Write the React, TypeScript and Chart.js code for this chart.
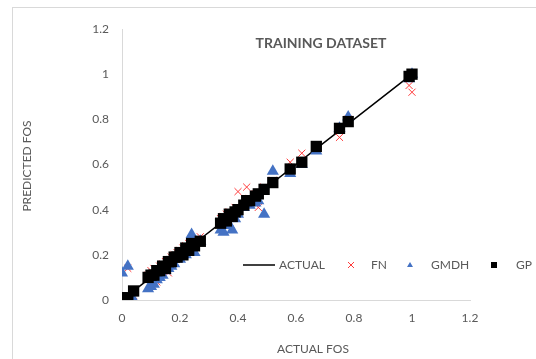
import React, { useEffect, useRef } from "react";
import { Chart, registerables } from "chart.js";

Chart.register(...registerables);

// ---- data ----
const actualFos = [0.0, 0.02, 0.04, 0.09, 0.1, 0.11, 0.12, 0.13, 0.14, 0.15, 0.16, 0.17, 0.18, 0.19, 0.2, 0.21, 0.22, 0.23, 0.24, 0.25, 0.27, 0.34, 0.35, 0.36, 0.37, 0.38, 0.39, 0.4, 0.42, 0.43, 0.44, 0.46, 0.47, 0.49, 0.52, 0.58, 0.62, 0.67, 0.75, 0.78, 0.99, 1.0];
const fnPred = [0.01, 0.14, 0.02, 0.11, 0.13, 0.14, 0.08, 0.15, 0.16, 0.17, 0.12, 0.19, 0.2, 0.21, 0.22, 0.23, 0.24, 0.25, 0.27, 0.24, 0.28, 0.36, 0.37, 0.38, 0.39, 0.37, 0.41, 0.48, 0.42, 0.5, 0.45, 0.47, 0.41, 0.5, 0.53, 0.61, 0.65, 0.67, 0.72, 0.8, 0.95, 0.92];
const gmdhPred = [0.12, 0.15, 0.0, 0.05, 0.06, 0.07, 0.09, 0.1, 0.11, 0.13, 0.14, 0.15, 0.16, 0.2, 0.18, 0.22, 0.2, 0.21, 0.29, 0.21, 0.26, 0.31, 0.3, 0.34, 0.33, 0.31, 0.36, 0.38, 0.41, 0.43, 0.42, 0.43, 0.44, 0.38, 0.57, 0.56, 0.6, 0.66, 0.76, 0.81, 0.98, 1.0];
const gpPred = [0.01, 0.01, 0.04, 0.1, 0.11, 0.11, 0.13, 0.13, 0.15, 0.14, 0.17, 0.17, 0.19, 0.19, 0.21, 0.2, 0.23, 0.22, 0.25, 0.24, 0.26, 0.34, 0.36, 0.35, 0.38, 0.37, 0.39, 0.4, 0.42, 0.44, 0.44, 0.46, 0.47, 0.49, 0.52, 0.58, 0.61, 0.68, 0.76, 0.79, 0.99, 1.0];
const axisTicks = [0, 0.2, 0.4, 0.6, 0.8, 1, 1.2];
const seriesLabels = ["ACTUAL", "FN", "GMDH", "GP"];
const chartTitle = "TRAINING DATASET";
const xAxisTitle = "ACTUAL FOS";
const yAxisTitle = "PREDICTED FOS";

const FONT = "Lato, 'Open Sans', sans-serif";
const TEXT = "#595959";
const RED = "#FF3B3B";
const BLUE = "#4472C4";

const toPoints = (pred: number[]) =>
  actualFos.map((x, i) => ({ x, y: pred[i] })).filter((p) => p.y !== undefined);

const overlayPlugin = {
  id: "overlay",
  afterDraw(chart: any) {
    const ctx = chart.ctx as CanvasRenderingContext2D;
    ctx.save();
    ctx.fillStyle = TEXT;
    ctx.textAlign = "center";
    ctx.textBaseline = "middle";
    ctx.font = `bold 14px ${FONT}`;
    ctx.fillText(chartTitle, 321, 43);
    ctx.font = `12px ${FONT}`;
    ctx.fillText(xAxisTitle, 313, 349);
    ctx.save();
    ctx.translate(27, 166);
    ctx.rotate(-Math.PI / 2);
    ctx.fillText(yAxisTitle, 0, 0);
    ctx.restore();

    // legend
    const ly = 265;
    ctx.textAlign = "left";
    ctx.font = `12px ${FONT}`;
    ctx.strokeStyle = "#000";
    ctx.lineWidth = 1.5;
    ctx.beginPath();
    ctx.moveTo(243, ly);
    ctx.lineTo(275, ly);
    ctx.stroke();
    ctx.fillText(seriesLabels[0], 279, ly);
    ctx.strokeStyle = RED;
    ctx.lineWidth = 1;
    ctx.beginPath();
    ctx.moveTo(348, ly - 3);
    ctx.lineTo(354, ly + 3);
    ctx.moveTo(354, ly - 3);
    ctx.lineTo(348, ly + 3);
    ctx.stroke();
    ctx.fillText(seriesLabels[1], 371, ly);
    ctx.fillStyle = BLUE;
    ctx.beginPath();
    ctx.moveTo(410, ly - 3);
    ctx.lineTo(413, ly + 2);
    ctx.lineTo(407, ly + 2);
    ctx.closePath();
    ctx.fill();
    ctx.fillStyle = TEXT;
    ctx.fillText(seriesLabels[2], 431, ly);
    ctx.fillStyle = "#000";
    ctx.fillRect(491, ly - 3, 6, 6);
    ctx.fillStyle = TEXT;
    ctx.fillText(seriesLabels[3], 516, ly);
    ctx.restore();
  },
};

export default function App() {
  const ref = useRef<HTMLCanvasElement | null>(null);

  useEffect(() => {
    if (!ref.current) return;
    const tickCommon = {
      color: TEXT,
      font: { size: 12, family: FONT },
      callback: (v: any) => String(v),
    };
    const chart = new Chart(ref.current, {
      type: "scatter",
      data: {
        datasets: [
          {
            label: seriesLabels[0],
            data: actualFos.map((v) => ({ x: v, y: v })),
            showLine: true,
            borderColor: "#000",
            borderWidth: 1.5,
            pointRadius: 0,
            order: 3,
          },
          {
            label: seriesLabels[1],
            data: toPoints(fnPred),
            pointStyle: "crossRot",
            pointRadius: 5,
            pointBorderWidth: 1,
            borderColor: RED,
            backgroundColor: RED,
            order: 2,
          },
          {
            label: seriesLabels[2],
            data: toPoints(gmdhPred),
            pointStyle: "triangle",
            pointRadius: 7,
            pointBorderWidth: 0,
            borderColor: BLUE,
            backgroundColor: BLUE,
            order: 1,
          },
          {
            label: seriesLabels[3],
            data: toPoints(gpPred),
            pointStyle: "rect",
            pointRadius: 8,
            pointBorderWidth: 0,
            borderColor: "#000",
            backgroundColor: "#000",
            order: 0,
          },
        ],
      },
      options: {
        responsive: false,
        animation: false,
        devicePixelRatio: 1,
        layout: { padding: { left: 82, right: 66, top: 29, bottom: 29 } },
        plugins: { legend: { display: false }, tooltip: { enabled: false }, title: { display: false } },
        scales: {
          x: {
            type: "linear",
            min: 0,
            max: 1.2,
            afterBuildTicks: (s: any) => {
              s.ticks = axisTicks.map((v) => ({ value: v }));
            },
            afterFit: (s: any) => {
              s.height = 30;
            },
            ticks: { ...tickCommon, padding: 11, maxRotation: 0 },
            grid: { display: false, drawTicks: false },
            border: { display: true, color: "#d9d9d9", width: 1 },
          },
          y: {
            type: "linear",
            min: 0,
            max: 1.2,
            afterBuildTicks: (s: any) => {
              s.ticks = axisTicks.map((v) => ({ value: v }));
            },
            afterFit: (s: any) => {
              s.width = 40;
            },
            ticks: { ...tickCommon, padding: 13 },
            grid: { display: false, drawTicks: false },
            border: { display: true, color: "#d9d9d9", width: 1 },
          },
        },
      },
      plugins: [overlayPlugin],
    } as any);
    return () => chart.destroy();
  }, []);

  return (
    <div style={{ position: "fixed", left: 0, top: 0, width: 536, height: 359, background: "#fff", overflow: "hidden" }}>
      <div
        style={{
          position: "absolute",
          left: 12,
          top: 7,
          width: 620,
          height: 420,
          border: "1px solid #d9d9d9",
        }}
      />
      <canvas ref={ref} width={536} height={359} style={{ position: "absolute", left: 0, top: 0 }} />
    </div>
  );
}
